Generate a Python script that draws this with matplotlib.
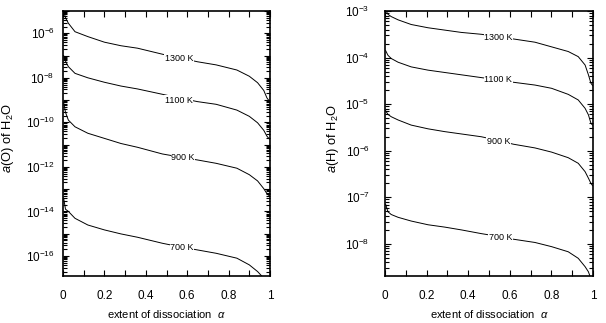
import numpy as np
import matplotlib
matplotlib.use('Agg')
import matplotlib.pyplot as plt
from matplotlib.ticker import MultipleLocator, LogLocator, FuncFormatter, NullFormatter

plt.rcParams['font.family'] = ['Liberation Sans', 'DejaVu Sans']
plt.rcParams['mathtext.fontset'] = 'custom'
plt.rcParams['mathtext.rm'] = 'Liberation Sans'
plt.rcParams['mathtext.it'] = 'Liberation Sans:italic'

temps = ['1300 K', '1100 K', '900 K', '700 K']

# left panel: log10 a(O) of H2O
alpha_O = [0.003, 0.012, 0.026, 0.058, 0.12, 0.2, 0.28, 0.36, 0.48, 0.56,
           0.65, 0.74, 0.84, 0.9, 0.94, 0.97, 0.985, 0.997]
logaO_1300 = [-5.0, -5.3, -5.55, -5.93, -6.15, -6.4, -6.56, -6.67, -6.94, -7.1,
              -7.28, -7.42, -7.65, -7.93, -8.22, -8.57, -8.9, -9.05]
logaO_1100 = [-7.0, -7.25, -7.5, -7.8, -8.0, -8.2, -8.37, -8.5, -8.74, -8.9,
              -9.07, -9.19, -9.45, -9.73, -10.02, -10.36, -10.62, -10.75]
logaO_900 = [-9.1, -9.55, -9.9, -10.2, -10.49, -10.72, -10.95, -11.12, -11.42, -11.55,
             -11.69, -11.84, -12.06, -12.35, -12.63, -12.98, -13.2, -13.3]
logaO_700 = [-13.4, -13.9, -14.0, -14.31, -14.61, -14.83, -15.01, -15.16, -15.43, -15.58,
             -15.73, -15.88, -16.1, -16.4, -16.7, -17.0, -17.3, -17.6]

# right panel: log10 a(H) of H2O
alpha_H = [0.003, 0.014, 0.03, 0.063, 0.126, 0.207, 0.287, 0.367, 0.463, 0.545,
           0.617, 0.721, 0.801, 0.881, 0.929, 0.962, 0.978, 0.99, 0.998]
logaH_1300 = [-2.98, -3.07, -3.12, -3.19, -3.29, -3.36, -3.41, -3.46, -3.5, -3.55,
              -3.6, -3.67, -3.77, -3.87, -3.98, -4.16, -4.37, -4.55, -4.6]
logaH_1100 = [-3.85, -3.95, -4.02, -4.1, -4.2, -4.27, -4.32, -4.37, -4.43, -4.48,
              -4.53, -4.59, -4.66, -4.79, -4.91, -5.09, -5.23, -5.41, -5.45]
logaH_900 = [-5.14, -5.22, -5.27, -5.34, -5.45, -5.53, -5.59, -5.64, -5.7, -5.78,
             -5.86, -5.94, -6.03, -6.15, -6.27, -6.45, -6.59, -6.7, -6.75]
logaH_700 = [-7.15, -7.31, -7.37, -7.43, -7.51, -7.59, -7.64, -7.7, -7.78, -7.84,
             -7.9, -7.97, -8.06, -8.17, -8.31, -8.49, -8.6, -8.75, -8.85]

# where the temperature labels sit on each curve (alpha, log10 a)
labpos_O = [(0.56, -7.12), (0.56, -9.02), (0.58, -11.58), (0.575, -15.62)]
labpos_H = [(0.545, -3.56), (0.545, -4.47), (0.545, -5.81), (0.555, -7.87)]

xticklabels = ['0', '0.2', '0.4', '0.6', '0.8', '1']


def expfmt(step):
    def f(v, pos):
        e = int(round(np.log10(v)))
        if e % step:
            return ''
        return r'$\mathregular{10^{%d}}$' % e
    return FuncFormatter(f)


def style(ax, ylo, yhi, step, ypad):
    ax.set_yscale('log')
    ax.set_xlim(0, 1)
    ax.set_ylim(ylo, yhi)
    ax.xaxis.set_major_locator(MultipleLocator(0.2))
    ax.xaxis.set_minor_locator(MultipleLocator(0.1))
    ax.set_xticks(np.arange(0, 1.01, 0.2))
    ax.set_xticklabels(xticklabels)
    ax.yaxis.set_major_locator(LogLocator(base=10, numticks=30))
    ax.yaxis.set_minor_locator(LogLocator(base=10, subs=np.arange(2, 10), numticks=30))
    ax.yaxis.set_major_formatter(expfmt(step))
    ax.yaxis.set_minor_formatter(NullFormatter())
    ax.tick_params(which='both', direction='in', top=True, right=True, width=0.8, labelsize=8.5)
    ax.tick_params(axis='x', which='both', length=4.5, pad=10)
    ax.tick_params(axis='y', which='major', length=4.5, pad=ypad)
    ax.tick_params(axis='y', which='minor', length=3)
    for s in ax.spines.values():
        s.set_linewidth(1.2)
    ax.set_xlabel(r'extent of dissociation  $\alpha$', fontsize=8)
    ax.xaxis.set_label_coords(0.5, -0.122)


fig = plt.figure(figsize=(6.06, 3.23), dpi=100)
axO = fig.add_axes([63 / 606, 47 / 323, 207 / 606, 265 / 323])
axH = fig.add_axes([385 / 606, 47 / 323, 208 / 606, 265 / 323])

for ax, alpha, curves, labpos in [
        (axO, alpha_O, [logaO_1300, logaO_1100, logaO_900, logaO_700], labpos_O),
        (axH, alpha_H, [logaH_1300, logaH_1100, logaH_900, logaH_700], labpos_H)]:
    for lg, t, (lx, ly) in zip(curves, temps, labpos):
        ax.plot(alpha, 10.0 ** np.array(lg), color='black', lw=0.7)
        ax.text(lx, 10.0 ** ly, t, fontsize=6.5, ha='center', va='center', zorder=5,
                bbox=dict(facecolor='white', edgecolor='none', pad=0.4))

style(axO, 10 ** -16.9, 1e-5, 2, 6)
style(axH, 10 ** -8.69, 1e-3, 1, 11)

axO.set_ylabel(r'$a$(O) of H$_2$O', fontsize=9.3)
axO.yaxis.set_label_coords(-0.227, 0.52)
axH.set_ylabel(r'$a$(H) of H$_2$O', fontsize=9.3)
axH.yaxis.set_label_coords(-0.21, 0.52)

fig.savefig('out.png', dpi=100)
